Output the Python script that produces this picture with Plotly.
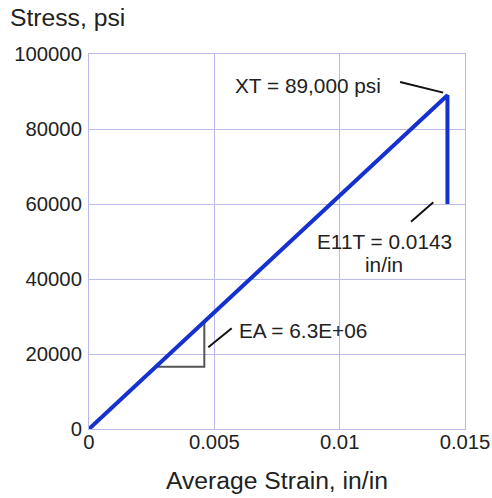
import plotly.graph_objects as go

# Stress-strain response (tension)
strain = [0.0, 0.0143, 0.0143]
stress = [0.0, 89000, 60000]

# Slope triangle used to mark the modulus EA
tri_strain = [0.00267, 0.0046, 0.0046]
tri_stress = [16600, 16600, 28700]

x_ticks = [0, 0.005, 0.01, 0.015]
x_tick_text = ["0", "0.005", "0.01", "0.015"]
y_ticks = [0, 20000, 40000, 60000, 80000, 100000]
y_tick_text = ["0", "20000", "40000", "60000", "80000", "100000"]

FONT = "Liberation Sans, Arial, sans-serif"
GRID = "#b9b9ea"
TEXT = "#222222"

fig = go.Figure()

fig.add_trace(go.Scatter(
    x=tri_strain, y=tri_stress, mode="lines",
    line=dict(color="#555555", width=2), hoverinfo="skip", showlegend=False,
))
fig.add_trace(go.Scatter(
    x=strain, y=stress, mode="lines",
    line=dict(color="#1531cf", width=4), showlegend=False,
))

# Leader lines for the labels
leaders = [
    (0.01241, 92550, 0.01413, 89700),
    (0.012846, 55280, 0.013735, 60450),
    (0.004759, 21790, 0.005693, 26850),
]
for x0, y0, x1, y1 in leaders:
    fig.add_shape(type="line", xref="x", yref="y", x0=x0, y0=y0, x1=x1, y1=y1,
                  line=dict(color="#111111", width=2))

lab = dict(family=FONT, size=20.8, color=TEXT)
fig.add_annotation(x=0.01173, y=91470, xref="x", yref="y", text="XT = 89,000 psi",
                   showarrow=False, xanchor="right", yanchor="middle", font=lab)
fig.add_annotation(x=0.01177, y=50130, xref="x", yref="y", text="E11T = 0.0143",
                   showarrow=False, xanchor="center", yanchor="middle", font=lab)
fig.add_annotation(x=0.01177, y=44000, xref="x", yref="y", text="in/in",
                   showarrow=False, xanchor="center", yanchor="middle", font=lab)
fig.add_annotation(x=0.005916, y=26400, xref="x", yref="y", text="EA = 6.3E+06",
                   showarrow=False, xanchor="left", yanchor="middle", font=lab)

# Axis titles
fig.add_annotation(x=-0.2155, y=1.096, xref="paper", yref="paper", text="Stress, psi",
                   showarrow=False, xanchor="left", yanchor="middle",
                   font=dict(family=FONT, size=24.7, color=TEXT))
fig.add_annotation(x=0.5, y=-0.136, xref="paper", yref="paper", text="Average Strain, in/in",
                   showarrow=False, xanchor="center", yanchor="middle",
                   font=dict(family=FONT, size=24.7, color=TEXT))

axis_common = dict(
    showgrid=True, gridcolor=GRID, gridwidth=1,
    showline=True, linecolor=GRID, linewidth=1, mirror=True,
    zeroline=False, ticks="", automargin=False,
    tickfont=dict(family=FONT, size=20.3, color=TEXT),
)
fig.update_xaxes(range=[0, 0.015], tickvals=x_ticks, ticktext=x_tick_text,
                 ticklabelstandoff=-5, **axis_common)
fig.update_yaxes(range=[0, 100000], tickvals=y_ticks, ticktext=y_tick_text,
                 ticklabelstandoff=2, **axis_common)

fig.update_layout(
    width=492, height=498,
    margin=dict(l=89, r=27, t=54, b=69),
    paper_bgcolor="white", plot_bgcolor="white",
    font=dict(family=FONT, color=TEXT),
)

fig.write_html("out.html")
